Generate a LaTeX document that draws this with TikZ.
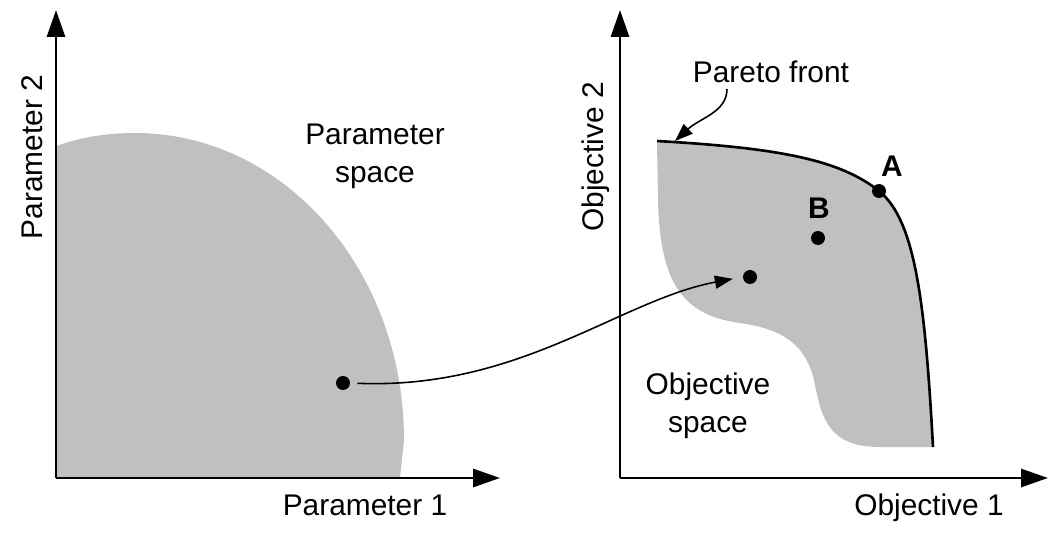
\documentclass[tikz,border=0pt]{standalone}
\usepackage{fontspec}
\setmainfont{Liberation Sans}
\usepackage{tikz}
\usetikzlibrary{positioning,arrows.meta}
\definecolor{regiongray}{RGB}{192,192,192}

\begin{document}
\begin{tikzpicture}[
		font=\fontsize{17}{21.5}\selectfont,
		axis/.style={line width=1.7pt,-{Triangle[length=0.54cm,width=0.36cm]}},
		mapto/.style={line width=0.9pt,-{Triangle[length=0.36cm,width=0.26cm]}},
		dot/.style={circle,fill=black,inner sep=0pt,minimum size=0.28cm},
		lbl/.style={inner sep=0pt,anchor=base}
	]
		
		\useasboundingbox (0,0) rectangle (21,10.64);
		
		% parameter space
		\coordinate (O1) at (1.12,1.08);
		\coordinate (X1) at (10.0,1.08);
		\coordinate (Y1) at (1.12,10.44);
		
		\fill[regiongray] (O1) -- (1.12,7.72) .. controls (1.70,7.92) and (2.20,7.98) .. (2.70,7.98)
			.. controls (5.68,7.98) and (8.08,5.24) .. (8.08,1.84) -- (8.0,1.08) -- cycle;
		
		\draw[axis] (O1) -- (Y1);
		\draw[axis] (O1) -- (X1);
		
		\node[lbl] (p1) at (7.3,0.34) {Parameter 1};
		\node[lbl,rotate=90] (p2) at (0.86,7.5) {Parameter 2};
		\node[align=center,inner sep=0pt] (pspace) at (7.5,7.51) {Parameter\\space};
		
		% objective space
		\coordinate (O2) at (12.4,1.08);
		\coordinate (X2) at (20.96,1.08);
		\coordinate (Y2) at (12.4,10.44);
		
		\fill[regiongray] (13.14,7.82) .. controls (15.6,7.68) and (16.8,7.44) .. (17.58,6.82)
			.. controls (18.3,6.24) and (18.5,4.64) .. (18.66,1.70) -- (17.6,1.70)
			.. controls (16.6,1.70) and (16.44,2.24) .. (16.3,2.94)
			.. controls (16.16,3.64) and (15.8,4.04) .. (14.8,4.18)
			.. controls (13.6,4.34) and (13.2,5.04) .. (13.16,6.64) -- cycle;
		
		\draw[axis] (O2) -- (Y2);
		\draw[axis] (O2) -- (X2);
		
		% pareto front
		\draw[line width=1.5pt] (13.14,7.82) .. controls (15.6,7.68) and (16.8,7.44) .. (17.58,6.82)
			.. controls (18.3,6.24) and (18.5,4.64) .. (18.66,1.70);
		
		\node[lbl] (o1) at (18.58,0.34) {Objective 1};
		\node[lbl,rotate=90] (o2) at (12.06,7.5) {Objective 2};
		\node[align=center,inner sep=0pt] (ospace) at (14.16,2.52) {Objective\\space};
		
		\node[lbl] (pf) at (15.42,9.0) {Pareto front};
		\coordinate (pfstart) at (14.54,8.86);
		\coordinate (pfend) at (13.5,7.82);
		\draw[mapto] (pfstart) .. controls (14.54,8.4) and (14.0,8.28) .. (pfend);
		
		\node[dot] (ptA) at (17.58,6.82) {};
		\node[dot] (ptB) at (16.36,5.88) {};
		\node[lbl,font=\fontsize{17}{20}\selectfont\bfseries] (labA) at (17.84,7.1) {A};
		\node[lbl,font=\fontsize{17}{20}\selectfont\bfseries] (labB) at (16.38,6.28) {B};
		
		% mapping
		\node[dot] (src) at (6.86,2.98) {};
		\node[dot] (img) at (15.0,5.1) {};
		\draw[mapto,shorten <=0.14cm,shorten >=0.2cm] (src.east) .. controls (10.4,2.84) and (12.4,4.64) .. (img.west);
		
	\end{tikzpicture}
\end{document}
